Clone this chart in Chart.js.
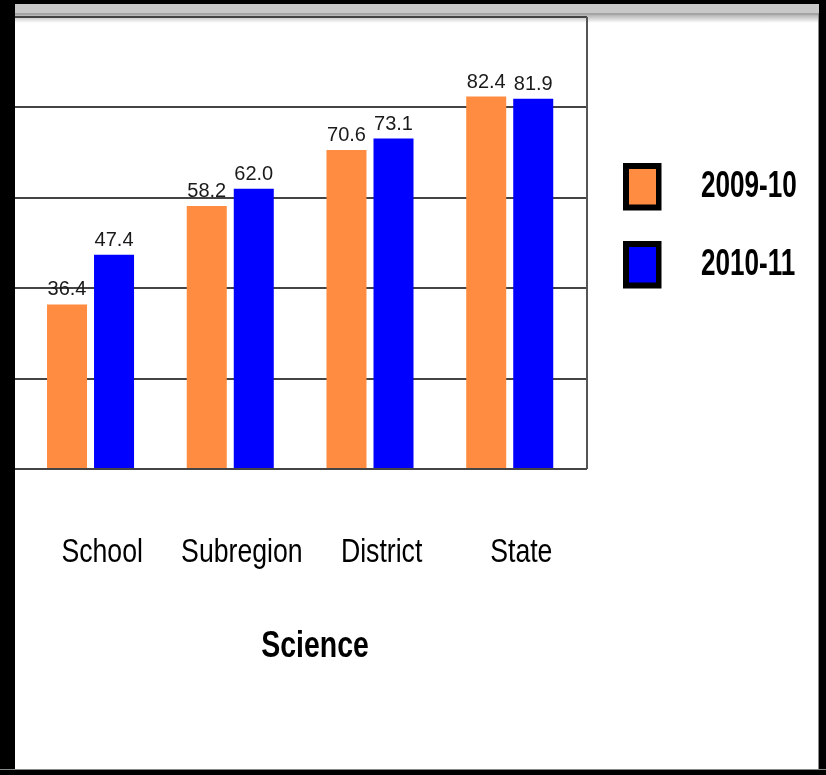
<!DOCTYPE html>
<html>
<head>
<meta charset="utf-8">
<script src="https://cdn.jsdelivr.net/npm/chart.js@4.4.1/dist/chart.umd.min.js"></script>
<style>
  html, body { margin:0; padding:0; }
  body { width:826px; height:775px; position:relative; overflow:hidden; background:#fff; }
  #grad { position:absolute; left:0; top:15px; width:826px; height:8px; background:linear-gradient(#b4b4b4, #ffffff); z-index:0; }
  #c { position:absolute; left:0; top:0; z-index:1; }
  .b { position:absolute; z-index:2; }
</style>
</head>
<body>
<div id="grad"></div>
<canvas id="c" width="826" height="775"></canvas>
<div class="b" style="left:0;top:0;width:826px;height:4px;background:#000"></div>
<div class="b" style="left:0;top:4px;width:826px;height:9px;background:#c8c8c8"></div>
<div class="b" style="left:0;top:13px;width:826px;height:2px;background:#a4a4a4"></div>
<div class="b" style="left:0;top:0;width:15px;height:775px;background:#000"></div>
<div class="b" style="left:818px;top:13px;width:1px;height:758px;background:#888"></div>
<div class="b" style="left:819px;top:0;width:7px;height:775px;background:#000"></div>
<div class="b" style="left:0;top:769px;width:826px;height:1px;background:#888"></div>
<div class="b" style="left:0;top:770px;width:826px;height:5px;background:#000"></div>
<script>
const categories = ['School', 'Subregion', 'District', 'State'];
const seriesNames = ['2009-10', '2010-11'];
const values2009 = [36.4, 58.2, 70.6, 82.4];
const values2010 = [47.4, 62.0, 73.1, 81.9];
const axisTitle = 'Science';
const yMin = 0, yMax = 100, yStep = 20;

const SANS = '"Liberation Sans", Arial, sans-serif';

const toPoints = arr => arr.map((v, i) => ({ x: i, y: v }));

function drawText(ctx, text, x, y, font, sx, sy, align) {
  ctx.save();
  ctx.font = font;
  ctx.fillStyle = '#000';
  ctx.textAlign = align;
  ctx.textBaseline = 'alphabetic';
  ctx.translate(x, y);
  ctx.scale(sx, sy);
  ctx.fillText(text, 0, 0);
  ctx.restore();
}

const valueLabels = {
  id: 'valueLabels',
  afterDatasetsDraw(chart) {
    const ctx = chart.ctx;
    ctx.save();
    ctx.font = '20px ' + SANS;
    ctx.fillStyle = '#1a1a1a';
    ctx.textAlign = 'center';
    ctx.textBaseline = 'alphabetic';
    chart.data.datasets.forEach((ds, di) => {
      chart.getDatasetMeta(di).data.forEach((el, i) => {
        ctx.fillText(ds.data[i].y.toFixed(1), el.x, el.y - 9);
      });
    });
    ctx.restore();
  }
};

const frame = {
  id: 'frame',
  beforeDatasetsDraw(chart) {
    const { ctx, chartArea: a } = chart;
    ctx.save();
    ctx.strokeStyle = '#555';
    ctx.lineWidth = 2;
    ctx.beginPath();
    ctx.moveTo(Math.round(a.right), a.top);
    ctx.lineTo(Math.round(a.right), a.bottom);
    ctx.stroke();
    ctx.restore();
  }
};

const extras = {
  id: 'extras',
  afterDraw(chart) {
    const ctx = chart.ctx;
    const xs = chart.scales.x;
    const a = chart.chartArea;
    // category labels
    categories.forEach((c, i) => {
      drawText(ctx, c, xs.getPixelForValue(i) + 11.6, a.bottom + 93, '32.5px ' + SANS, 0.82, 1, 'center');
    });
    // legend
    chart.data.datasets.forEach((ds, i) => {
      const x = 623, y = 163 + i * 78, w = 38.5, h = 47.5;
      ctx.fillStyle = '#000';
      ctx.fillRect(x, y, w, h);
      ctx.fillStyle = ds.backgroundColor;
      ctx.fillRect(x + 6, y + 6, w - 11.5, h - 12);
      drawText(ctx, ds.label, 701, 196.7 + i * 78.3, 'bold 37px ' + SANS, 0.705, 1, 'left');
    });
    // axis title
    drawText(ctx, axisTitle, 315, 656.7, 'bold 37px ' + SANS, 0.77, 1, 'center');
  }
};

new Chart(document.getElementById('c'), {
  type: 'bar',
  data: {
    datasets: [
      { label: seriesNames[0], data: toPoints(values2009), backgroundColor: '#FF8C40', borderWidth: 0 },
      { label: seriesNames[1], data: toPoints(values2010), backgroundColor: '#0000FF', borderWidth: 0 }
    ]
  },
  options: {
    responsive: false,
    animation: false,
    devicePixelRatio: 1,
    categoryPercentage: 0.673,
    barPercentage: 0.851,
    layout: { padding: { left: 12, top: 17, right: 239, bottom: 306 } },
    plugins: { legend: { display: false }, tooltip: { enabled: false } },
    scales: {
      x: {
        type: 'linear',
        offset: false,
        min: -0.562,
        max: 3.553,
        afterBuildTicks(scale) { scale.ticks = categories.map((c, i) => ({ value: i })); },
        grid: { display: false, drawTicks: false, offset: false },
        border: { display: false },
        ticks: { display: false }
      },
      y: {
        min: yMin,
        max: yMax,
        ticks: { display: false, stepSize: yStep },
        grid: { color: '#444', lineWidth: 2, drawTicks: false },
        border: { display: false }
      }
    }
  },
  plugins: [frame, valueLabels, extras]
});
</script>
</body>
</html>
